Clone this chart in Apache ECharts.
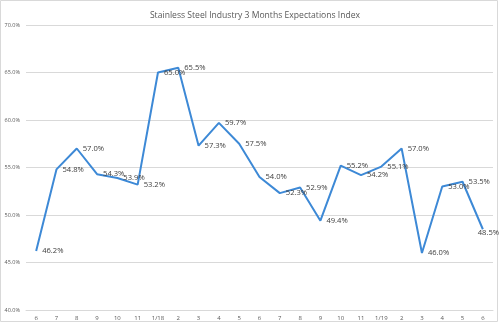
<!DOCTYPE html>
<html><head><meta charset="utf-8">
<script src="https://cdn.jsdelivr.net/npm/echarts@6/dist/echarts.min.js"></script>
<style>html,body{margin:0;padding:0;background:#fff}#c{width:501px;height:327px}</style>
</head><body><div id="c"></div>
<script>
var categories = ['6','7','8','9','10','11','1/18','2','3','4','5','6','7','8','9','10','11','1/19','2','3','4','5','6'];
var values = [46.2,54.8,57.0,54.3,53.9,53.2,65.0,65.5,57.3,59.7,57.5,54.0,52.3,52.9,49.4,55.2,54.2,55.1,57.0,46.0,53.0,53.5,48.5];
var yTicks = [40,45,50,55,60,65,70];
var title = 'Stainless Steel Industry 3 Months Expectations Index';
var chart = echarts.init(document.getElementById('c'), null, {renderer:'canvas'});
chart.setOption({
  animation:false,
  graphic:[{type:'rect',shape:{x:0.5,y:0.5,width:497,height:321},style:{fill:'none',stroke:'#d9d9d9',lineWidth:1},silent:true}],
  title:{text:title,left:250,textAlign:'center',top:6,textStyle:{fontFamily:'Open Sans',fontSize:8.6,fontWeight:'normal',color:'#595959'}},
  grid:{left:26,right:8,top:25,bottom:17},
  xAxis:{type:'category',data:categories,boundaryGap:true,
    axisLine:{lineStyle:{color:'#d9d9d9'}},axisTick:{show:false},
    axisLabel:{fontFamily:'Open Sans',fontSize:6,color:'#595959',margin:5,interval:0}},
  yAxis:{type:'value',min:yTicks[0],max:yTicks[yTicks.length-1],interval:5,
    axisLine:{show:false},axisTick:{show:false},
    splitLine:{lineStyle:{color:'#d9d9d9'}},
    axisLabel:{fontFamily:'Open Sans',fontSize:5.5,color:'#595959',margin:6,formatter:function(v){return v.toFixed(1)+'%';}}},
  series:[{type:'line',data:values,symbol:'circle',symbolSize:2,showSymbol:true,showAllSymbol:true,
    itemStyle:{color:'rgba(61,137,214,0)',borderWidth:0},
    lineStyle:{color:'#3d89d6',width:2},
    labelLayout:function(p){var r=p.labelRect; if(r.x+r.width>499){return {x:499-r.width, hideOverlap:false};} return {hideOverlap:false};},
    label:{show:true,position:'right',distance:5,opacity:1,fontFamily:'Open Sans',fontSize:7.6,color:'#404040',
      formatter:function(p){return p.value.toFixed(1)+'%';}}}]
});
</script></body></html>
